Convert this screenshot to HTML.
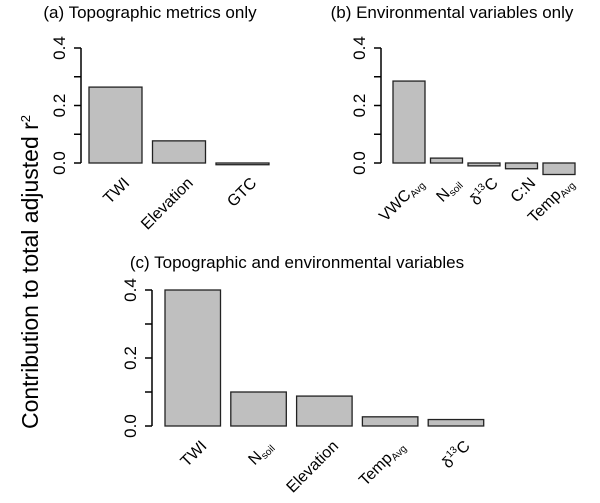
<!DOCTYPE html>
<html><head><meta charset="utf-8"><style>
body{margin:0;background:#fff}
svg text{font-family:"Liberation Sans",sans-serif;fill:#000}
</style></head><body>
<svg width="600" height="498" viewBox="0 0 600 498">
<text transform="translate(38,272) rotate(-90)" text-anchor="middle" font-size="23">Contribution to total adjusted r<tspan dy="-8" font-size="13">2</tspan></text>
<g id="pa"></g>
<g id="pb"></g>
<g id="pc"></g>
</svg>
<script>
const catsA=[["TWI"],["Elevation"],["GTC"]];
const valsA=[0.264,0.077,-0.006];
const catsB=[["VWC","Avg"],["N","soil"],["δ","13","C"],["C:N"],["Temp","Avg"]];
const valsB=[0.285,0.017,-0.01,-0.02,-0.04];
const catsC=[["TWI"],["N","soil"],["Elevation"],["Temp","Avg"],["δ","13","C"]];
const valsC=[0.40,0.10,0.088,0.027,0.019];
const ticks=[0,0.1,0.2,0.3,0.4];
const tickLabels=["0.0","","0.2","","0.4"];
const NS="http://www.w3.org/2000/svg";
function mk(p,t,a){const e=document.createElementNS(NS,t);for(const k in a)e.setAttribute(k,a[k]);p.appendChild(e);return e;}
function panel(id,title,titleX,titleY,cats,vals,ax,y0,y4,x0,bw,gap,fs){
  const g=document.getElementById(id);
  const ys=v=>y0-(v/0.4)*(y0-y4);
  const t=mk(g,'text',{x:titleX,y:titleY,'text-anchor':'middle','font-size':fs});
  
  
  t.textContent=title;
  mk(g,'line',{x1:ax,x2:ax,y1:ys(0),y2:ys(0.4),stroke:'#000','stroke-width':1.5});
  ticks.forEach((v,i)=>{
    mk(g,'line',{x1:ax-7,x2:ax,y1:ys(v),y2:ys(v),stroke:'#000','stroke-width':1.5});
    if(tickLabels[i]){const tl=mk(g,'text',{transform:`translate(${ax-16},${ys(v)}) rotate(-90)`,'text-anchor':'middle','font-size':17});
      
      
      tl.textContent=tickLabels[i];}
  });
  vals.forEach((v,i)=>{
    const x=x0+i*(bw+gap);
    const r=mk(g,'rect',{x:x,y:Math.min(ys(v),ys(0)),width:bw,height:Math.max(Math.abs(ys(v)-ys(0)),1),fill:'#bfbfbf',stroke:'#222','stroke-width':1.3});
    
    
    const cx=x+bw/2, ly=y0+13;
    const l=mk(g,'text',{transform:`translate(${cx+7},${ly}) rotate(-45)`,'text-anchor':'end','font-size':16,dy:'0.7em'});
    
    
    const c=cats[i];
    if(c.length===1){l.textContent=c[0];}
    else if(c.length===2){mk(l,'tspan',{}).textContent=c[0];mk(l,'tspan',{'font-size':10,dy:'3'}).textContent=c[1];}
    else{mk(l,'tspan',{}).textContent=c[0];mk(l,'tspan',{'font-size':10,dy:'-7'}).textContent=c[1];mk(l,'tspan',{dy:'7'}).textContent=c[2];}
  });
}
panel('pa','(a) Topographic metrics only',150,18,catsA,valsA,81,163,48,89,53,10.5,17);
panel('pb','(b) Environmental variables only',452,18,catsB,valsB,381,163,48,393,32,5.5,17);
panel('pc','(c) Topographic and environmental variables',297,268,catsC,valsC,152,426,290,165,55.5,10.3,17);
</script>
</body></html>
